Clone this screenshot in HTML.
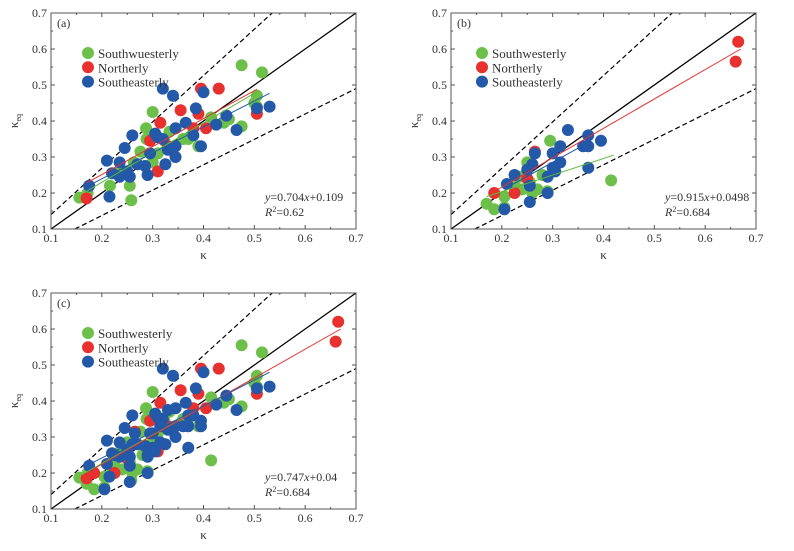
<!DOCTYPE html>
<html><head><meta charset="utf-8"><style>
body{margin:0;background:#fff;width:794px;height:546px;overflow:hidden}
svg text{font-family:"Liberation Serif",serif;fill:#333}
</style></head><body>
<svg id="chart" width="794" height="546" xmlns="http://www.w3.org/2000/svg"></svg>
<script>
const ticks=[0.1,0.2,0.3,0.4,0.5,0.6,0.7];
const tickLabels=["0.1","0.2","0.3","0.4","0.5","0.6","0.7"];
const aGreenX=[0.156,0.172,0.216,0.238,0.255,0.258,0.263,0.276,0.287,0.288,0.3,0.3,0.323,0.333,0.335,0.36,0.37,0.39,0.415,0.44,0.45,0.475,0.475,0.5,0.505,0.505,0.515,0.33,0.31];
const aGreenY=[0.187,0.2,0.22,0.265,0.22,0.18,0.285,0.315,0.38,0.35,0.425,0.285,0.345,0.37,0.32,0.35,0.35,0.33,0.41,0.395,0.405,0.385,0.555,0.45,0.47,0.44,0.535,0.33,0.31];
const aRedX=[0.17,0.295,0.31,0.315,0.355,0.38,0.39,0.395,0.405,0.43,0.505,0.33];
const aRedY=[0.185,0.345,0.26,0.395,0.43,0.38,0.42,0.49,0.38,0.49,0.42,0.33];
const aBlueX=[0.175,0.21,0.215,0.22,0.235,0.235,0.245,0.25,0.26,0.255,0.27,0.285,0.29,0.295,0.305,0.31,0.32,0.32,0.325,0.33,0.34,0.345,0.345,0.345,0.365,0.38,0.385,0.395,0.4,0.425,0.445,0.465,0.505,0.53];
const aBlueY=[0.22,0.29,0.19,0.255,0.285,0.245,0.325,0.26,0.36,0.245,0.28,0.275,0.25,0.31,0.365,0.355,0.49,0.35,0.28,0.32,0.47,0.38,0.3,0.33,0.395,0.36,0.435,0.33,0.48,0.39,0.415,0.375,0.435,0.44];
const bGreenX=[0.17,0.185,0.205,0.205,0.235,0.24,0.25,0.255,0.26,0.27,0.28,0.29,0.295,0.415,0.225];
const bGreenY=[0.17,0.155,0.19,0.16,0.245,0.21,0.285,0.23,0.2,0.21,0.25,0.205,0.345,0.235,0.22];
const bRedX=[0.185,0.225,0.265,0.66,0.665,0.25];
const bRedY=[0.2,0.2,0.315,0.565,0.62,0.24];
const bBlueX=[0.205,0.21,0.225,0.25,0.255,0.255,0.26,0.265,0.29,0.29,0.3,0.3,0.305,0.315,0.315,0.33,0.36,0.37,0.37,0.37,0.395];
const bBlueY=[0.155,0.225,0.25,0.265,0.175,0.22,0.28,0.31,0.2,0.245,0.27,0.31,0.26,0.33,0.285,0.375,0.33,0.33,0.36,0.27,0.345];
const panels=[
 {id:"a",ox:0,oy:0,label:"(a)",legend:["Southwuesterly","Northerly","Southeasterly"],lx:88,
  g:[aGreenX,aGreenY],r:[aRedX,aRedY],b:[aBlueX,aBlueY],
  fg:[0.17,0.205,0.51,0.485],fr:[0.17,0.228,0.505,0.488],fb:[0.17,0.218,0.53,0.477],
  eq:"0.704",c:"0.109",r2:"0.62"},
 {id:"b",ox:400,oy:0,label:"(b)",legend:["Southwesterly","Northerly","Southeasterly"],lx:82,
  g:[bGreenX,bGreenY],r:[bRedX,bRedY],b:[bBlueX,bBlueY],
  fg:[0.17,0.19,0.42,0.305],fr:[0.18,0.2,0.67,0.6],fb:[0.21,0.215,0.37,0.34],
  eq:"0.915",c:"0.0498",r2:"0.684"},
 {id:"c",ox:0,oy:280,label:"(c)",legend:["Southwesterly","Northerly","Southeasterly"],lx:88,
  g:[aGreenX.concat(bGreenX),aGreenY.concat(bGreenY)],r:[aRedX.concat(bRedX),aRedY.concat(bRedY)],b:[aBlueX.concat(bBlueX),aBlueY.concat(bBlueY)],
  fg:[0.16,0.195,0.515,0.475],fr:[0.17,0.2,0.67,0.6],fb:[0.17,0.22,0.53,0.48],
  eq:"0.747",c:"0.04",r2:"0.684"}
];
const NS="http://www.w3.org/2000/svg";
const svg=document.getElementById('chart');
function mk(tag,attrs,parent){const e=document.createElementNS(NS,tag);for(const k in attrs)e.setAttribute(k,attrs[k]);(parent||svg).appendChild(e);return e;}
panels.forEach(p=>{
 const X0=51+p.ox,X1=356+p.ox,Y0=229+p.oy,Y1=13+p.oy;
 const sx=v=>X0+(v-0.1)/0.6*(X1-X0);
 const sy=v=>Y0-(v-0.1)/0.6*(Y0-Y1);
 const g=mk('g',{});
 
 
 const clip=mk('clipPath',{id:'clip'+p.id},g);mk('rect',{x:X0,y:Y1,width:X1-X0,height:Y0-Y1},clip);
 const plot=mk('g',{'clip-path':'url(#clip'+p.id+')'},g);
 // reference lines
 const l1=mk('line',{x1:sx(0.1),y1:sy(0.1),x2:sx(0.7),y2:sy(0.7),stroke:'#000','stroke-width':1.3},plot);
 
 const l2=mk('line',{x1:sx(0.1),y1:sy(0.14),x2:sx(0.535),y2:sy(0.7),stroke:'#000','stroke-width':1.2,'stroke-dasharray':'5,3'},plot);
 
 const l3=mk('line',{x1:sx(0.147),y1:sy(0.1),x2:sx(0.7),y2:sy(0.49),stroke:'#000','stroke-width':1.2,'stroke-dasharray':'5,3'},plot);
 
 const series=[['green',p.g,'#6cc04a'],['red',p.r,'#e8312f'],['blue',p.b,'#2458a8']];
 series.forEach(([n,d,col])=>{
  d[0].forEach((x,i)=>{const c=mk('circle',{cx:sx(x),cy:sy(d[1][i]),r:6,fill:col},plot);
   
   });
 });
 [['green',p.fg,'#5cb83a'],['red',p.fr,'#e8312f'],['blue',p.fb,'#2458a8']].forEach(([n,f,col])=>{
  const l=mk('line',{x1:sx(f[0]),y1:sy(f[1]),x2:sx(f[2]),y2:sy(f[3]),stroke:col,'stroke-width':1},plot);
  
  
 });
 mk('rect',{x:X0,y:Y1,width:X1-X0,height:Y0-Y1,fill:'none',stroke:'#555','stroke-width':1},g);
 for(let v=0.1;v<=0.7001;v+=0.05){
  const big=Math.abs(Math.round(v*10)-v*10)<1e-6,len=big?4:2;
  mk('line',{x1:sx(v),y1:Y0,x2:sx(v),y2:Y0-len,stroke:'#555'},g);
  mk('line',{x1:sx(v),y1:Y1,x2:sx(v),y2:Y1+len,stroke:'#555'},g);
  mk('line',{x1:X0,y1:sy(v),x2:X0+len,y2:sy(v),stroke:'#555'},g);
  mk('line',{x1:X1,y1:sy(v),x2:X1-len,y2:sy(v),stroke:'#555'},g);
 }
 ticks.forEach((v,i)=>{
  const t=mk('text',{x:sx(v),y:Y0+13,'font-size':12,'text-anchor':'middle'},g);t.textContent=tickLabels[i];
  
  const u=mk('text',{x:X0-4,y:sy(v)+4,'font-size':12,'text-anchor':'end'},g);u.textContent=tickLabels[i];
  
 });
 const xt=mk('text',{x:(X0+X1)/2,y:Y0+30,'font-size':13,'text-anchor':'middle'},g);xt.textContent='κ';
 
 const yt=mk('text',{x:0,y:0,'font-size':13,transform:`translate(${X0-33},${(Y0+Y1)/2}) rotate(-90)`,'text-anchor':'middle'},g);
 yt.innerHTML='κ<tspan font-size="8" dy="3">eq</tspan>';
 
 const pl=mk('text',{x:X0+6,y:Y1+14,'font-size':12},g);pl.textContent=p.label;
 
 const cols=['#6cc04a','#e8312f','#2458a8'];
 p.legend.forEach((s,i)=>{
  const ly=Y1+40+i*14.3;
  mk('circle',{cx:p.lx+p.ox,cy:ly,r:6,fill:cols[i]},g);
  const t=mk('text',{x:p.lx+p.ox+10,y:ly+5,'font-size':13},g);t.textContent=s;
  
 });
 const e=mk('text',{x:X0+214,y:Y1+188,'font-size':12},g);
 e.innerHTML='<tspan font-style="italic">y</tspan>=0.'+p.eq.slice(2)+'<tspan font-style="italic">x</tspan>+'+p.c;
 
 const r=mk('text',{x:X0+214,y:Y1+203,'font-size':12},g);
 r.innerHTML='<tspan font-style="italic">R</tspan><tspan font-size="8" dy="-4">2</tspan><tspan dy="4">=</tspan>'+p.r2;
 
});
</script>
</body></html>
